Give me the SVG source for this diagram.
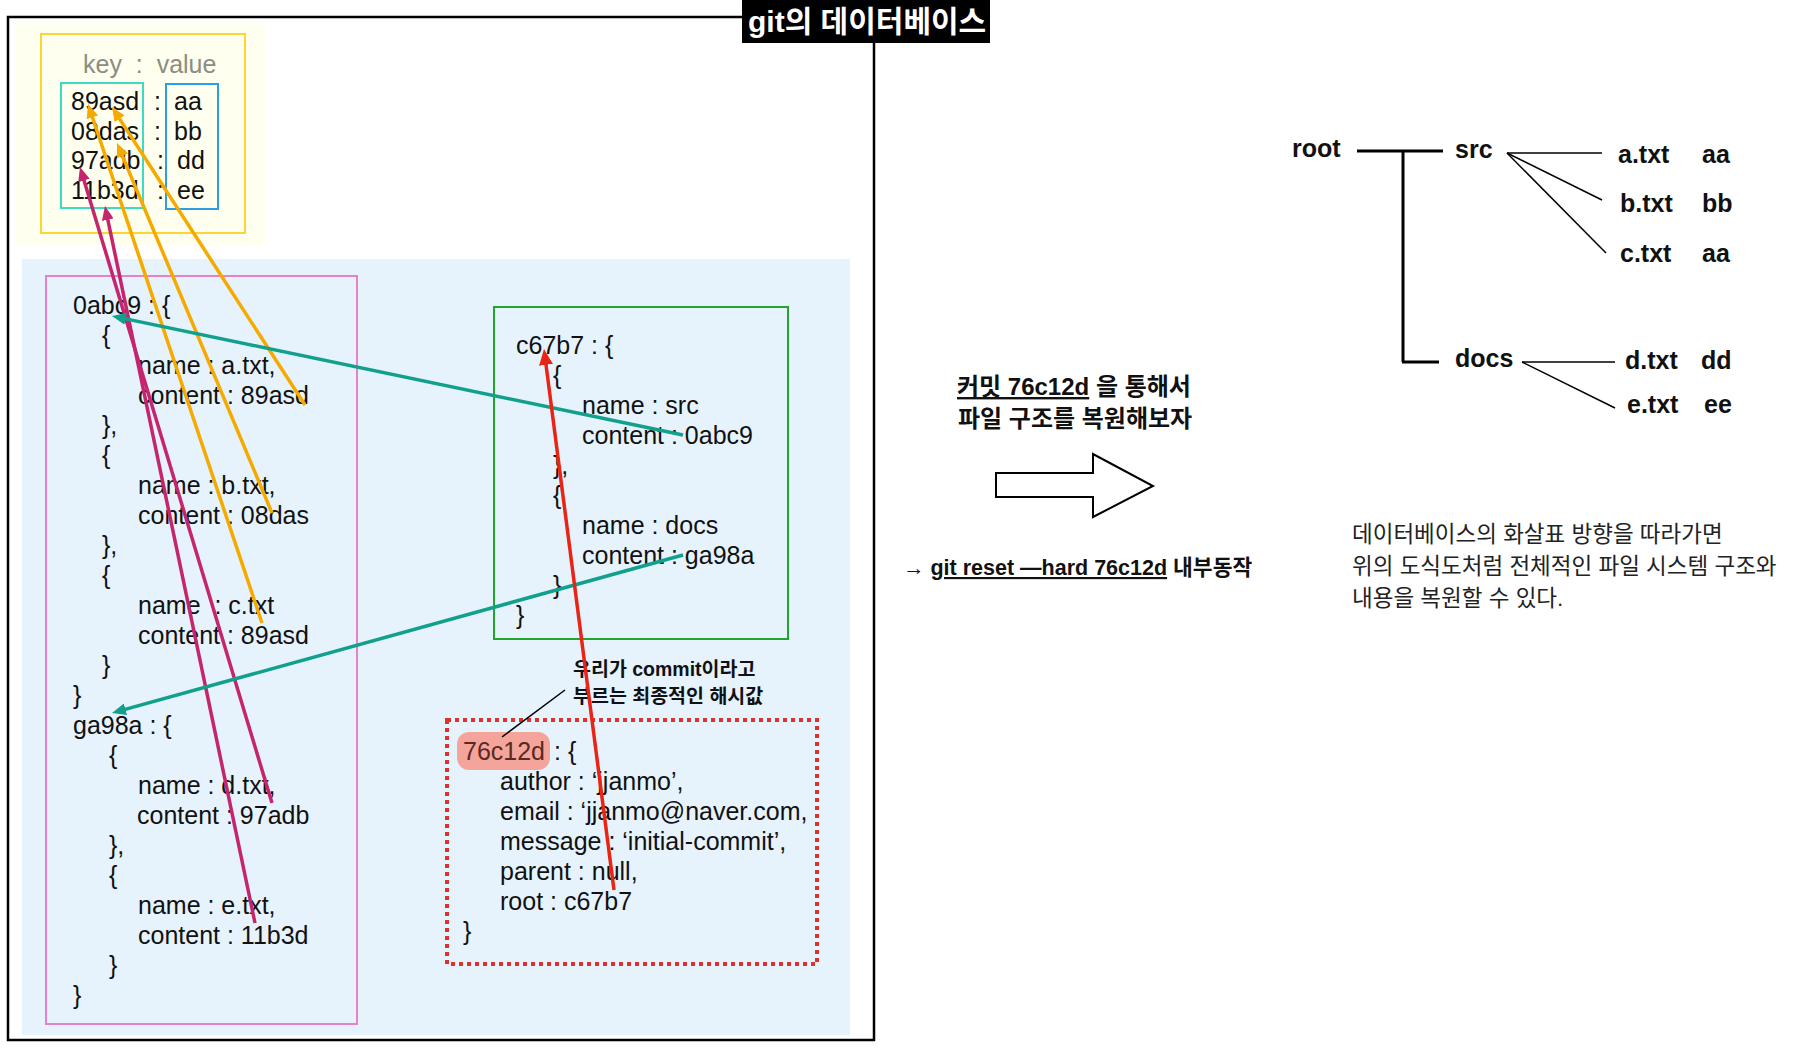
<svg xmlns="http://www.w3.org/2000/svg" width="1801" height="1059" viewBox="0 0 1801 1059">
<style>
  text { font-family: "Liberation Sans", "Noto Sans CJK KR", sans-serif; }
  .code { font-size: 25px; fill: #111; white-space: pre; }
  .bold { font-weight: bold; }
  .tree { font-size: 25px; font-weight: bold; fill: #111; }
  .thick { stroke: #000; stroke-width: 3; fill: none; }
  .thin { stroke: #000; stroke-width: 1.5; fill: none; }
  .orange { stroke: #F5AA00; stroke-width: 3.5; fill: none; }
  .magenta { stroke: #C4256C; stroke-width: 3.5; fill: none; }
  .teal { stroke: #11A08B; stroke-width: 3.5; fill: none; }
  .red { stroke: #EA2415; stroke-width: 3.5; fill: none; }
</style>
<defs>
  <marker id="m-orange" viewBox="0 0 14 12" refX="6" refY="6" markerWidth="14" markerHeight="12" markerUnits="userSpaceOnUse" orient="auto"><path d="M0,0 L14,6 L0,12 z" fill="#F5AA00"/></marker>
  <marker id="m-magenta" viewBox="0 0 14 12" refX="6" refY="6" markerWidth="14" markerHeight="12" markerUnits="userSpaceOnUse" orient="auto"><path d="M0,0 L14,6 L0,12 z" fill="#C4256C"/></marker>
  <marker id="m-teal" viewBox="0 0 14 12" refX="6" refY="6" markerWidth="14" markerHeight="12" markerUnits="userSpaceOnUse" orient="auto"><path d="M0,0 L14,6 L0,12 z" fill="#11A08B"/></marker>
  <marker id="m-red" viewBox="0 0 16 14" refX="8" refY="7" markerWidth="16" markerHeight="14" markerUnits="userSpaceOnUse" orient="auto"><path d="M0,0 L16,7 L0,14 z" fill="#EA2415"/></marker>
</defs>

<rect width="1801" height="1059" fill="#fff"/>

<g id="git-database">
  <rect x="8" y="17" width="866" height="1023" fill="none" stroke="#000" stroke-width="2.5"/>
  <rect x="16" y="23" width="249" height="222" fill="#FFFFEF"/>
  <rect x="22" y="259" width="828" height="776" fill="#E6F3FD"/>
</g>

<g id="title">
  <rect x="742" y="0" width="248" height="43" fill="#000"/>
  <text x="748" y="32" font-size="30" font-weight="bold" fill="#fff">git의 데이터베이스</text>
</g>

<g id="key-value-store">
  <rect x="41" y="34" width="204" height="199" fill="none" stroke="#F8D636" stroke-width="2"/>
  <text x="83" y="73" class="code" style="fill:#8C8C82">key  :  value</text>
  <rect x="61" y="83" width="82" height="125" fill="none" stroke="#3DDCC2" stroke-width="2"/>
  <rect x="166" y="84" width="52" height="125" fill="none" stroke="#2E9DE8" stroke-width="2"/>
  <text class="code" x="71" y="110">89asd</text>
  <text class="code" x="71" y="140">08das</text>
  <text class="code" x="71" y="169">97adb</text>
  <text class="code" x="71" y="199">11b3d</text>
  <text class="code" x="154" y="110">:</text>
  <text class="code" x="154" y="140">:</text>
  <text class="code" x="157" y="169">:</text>
  <text class="code" x="157" y="199">:</text>
  <text class="code" x="174" y="110">aa</text>
  <text class="code" x="174" y="140">bb</text>
  <text class="code" x="177" y="169">dd</text>
  <text class="code" x="177" y="199">ee</text>
</g>

<g id="tree-0abc9-ga98a">
  <rect x="46" y="276" width="311" height="748" fill="none" stroke="#E882C8" stroke-width="2"/>
  <text class="code" x="73" y="314">0abc9 : {</text>
  <text class="code" x="102" y="344">{</text>
  <text class="code" x="138" y="374">name : a.txt,</text>
  <text class="code" x="138" y="404">content : 89asd</text>
  <text class="code" x="102" y="434">},</text>
  <text class="code" x="102" y="464">{</text>
  <text class="code" x="138" y="494">name : b.txt,</text>
  <text class="code" x="138" y="524">content : 08das</text>
  <text class="code" x="102" y="554">},</text>
  <text class="code" x="102" y="584">{</text>
  <text class="code" x="138" y="614">name  : c.txt</text>
  <text class="code" x="138" y="644">content : 89asd</text>
  <text class="code" x="102" y="674">}</text>
  <text class="code" x="73" y="704">}</text>
  <text class="code" x="73" y="734">ga98a : {</text>
  <text class="code" x="109" y="764">{</text>
  <text class="code" x="138" y="794">name : d.txt,</text>
  <text class="code" x="137" y="824">content : 97adb</text>
  <text class="code" x="109" y="854">},</text>
  <text class="code" x="109" y="884">{</text>
  <text class="code" x="138" y="914">name : e.txt,</text>
  <text class="code" x="138" y="944">content : 11b3d</text>
  <text class="code" x="109" y="974">}</text>
  <text class="code" x="73" y="1004">}</text>
</g>

<g id="tree-c67b7">
  <rect x="494" y="307" width="294" height="332" fill="none" stroke="#22A52E" stroke-width="2"/>
  <text class="code" x="516" y="354">c67b7 : {</text>
  <text class="code" x="553" y="384">{</text>
  <text class="code" x="582" y="414">name : src</text>
  <text class="code" x="582" y="444">content : 0abc9</text>
  <text class="code" x="553" y="474">},</text>
  <text class="code" x="553" y="504">{</text>
  <text class="code" x="582" y="534">name : docs</text>
  <text class="code" x="582" y="564">content : ga98a</text>
  <text class="code" x="553" y="594">}</text>
  <text class="code" x="516" y="624">}</text>
</g>

<g id="commit-76c12d">
  <rect x="447" y="720" width="370" height="244" fill="none" stroke="#E0302A" stroke-width="4" stroke-dasharray="4 4"/>
  <rect x="457" y="732" width="93" height="38" rx="12" fill="#F4A49A"/>
  <text class="code" x="463" y="760" style="fill:#5A2A22">76c12d</text>
  <text class="code" x="554" y="760">: {</text>
  <text class="code" x="500" y="790">author : ‘jjanmo’,</text>
  <text class="code" x="500" y="820">email : ‘jjanmo@naver.com,</text>
  <text class="code" x="500" y="850">message : ‘initial-commit’,</text>
  <text class="code" x="500" y="880">parent : null,</text>
  <text class="code" x="500" y="910">root : c67b7</text>
  <text class="code" x="463" y="940">}</text>
</g>

<g id="commit-callout">
  <line x1="565" y1="690" x2="502" y2="737" stroke="#000" stroke-width="1.5"/>
  <text x="573" y="676" font-size="19.5" font-weight="bold" fill="#111">우리가 commit이라고</text>
  <text x="573" y="703" font-size="19.5" font-weight="bold" fill="#111">부르는 최종적인 해시값</text>
</g>

<g id="restore-label">
  <text x="957" y="395" font-size="24" font-weight="bold" fill="#111"><tspan text-decoration="underline">커밋 76c12d</tspan> 을 통해서</text>
  <text x="958" y="427" font-size="24" font-weight="bold" fill="#111">파일 구조를 복원해보자</text>
</g>

<g id="hollow-arrow">
  <polygon points="996,473 1093,473 1093,454 1153,486 1093,517 1093,497 996,497" fill="#fff" stroke="#000" stroke-width="2"/>
</g>

<g id="git-reset-label">
  <text x="903" y="575" font-size="21.5" font-weight="bold" fill="#111">→ <tspan text-decoration="underline">git reset —hard 76c12d</tspan> 내부동작</text>
</g>

<g id="explanation">
  <text x="1352" y="542" font-size="22.5" fill="#222">데이터베이스의 화살표 방향을 따라가면</text>
  <text x="1352" y="574" font-size="22.5" fill="#222">위의 도식도처럼 전체적인 파일 시스템 구조와</text>
  <text x="1352" y="606" font-size="22.5" fill="#222">내용을 복원할 수 있다.</text>
</g>

<g id="fs-tree">
  <line class="thick" x1="1357" y1="151" x2="1443" y2="151"/>
  <line class="thick" x1="1403" y1="151" x2="1403" y2="362"/>
  <line class="thick" x1="1402" y1="362" x2="1439" y2="362"/>
  <line class="thin" x1="1507" y1="153" x2="1602" y2="153"/>
  <line class="thin" x1="1507" y1="153" x2="1602" y2="200"/>
  <line class="thin" x1="1507" y1="153" x2="1606" y2="253"/>
  <line class="thin" x1="1522" y1="362" x2="1615" y2="362"/>
  <line class="thin" x1="1522" y1="362" x2="1615" y2="408"/>
  <text class="tree" x="1292" y="157">root</text>
  <text class="tree" x="1455" y="158">src</text>
  <text class="tree" x="1455" y="367">docs</text>
  <text class="tree" x="1618" y="163">a.txt</text>
  <text class="tree" x="1702" y="163">aa</text>
  <text class="tree" x="1620" y="212">b.txt</text>
  <text class="tree" x="1702" y="212">bb</text>
  <text class="tree" x="1620" y="262">c.txt</text>
  <text class="tree" x="1702" y="262">aa</text>
  <text class="tree" x="1625" y="369">d.txt</text>
  <text class="tree" x="1701" y="369">dd</text>
  <text class="tree" x="1627" y="413">e.txt</text>
  <text class="tree" x="1704" y="413">ee</text>
</g>

<g id="connectors">
  <line class="orange" x1="305" y1="405" x2="116.3" y2="113.7" marker-end="url(#m-orange)"/>
  <line class="orange" x1="272" y1="513" x2="120.1" y2="150.4" marker-end="url(#m-orange)"/>
  <line class="orange" x1="262" y1="623" x2="90.5" y2="111.6" marker-end="url(#m-orange)"/>
  <line class="magenta" x1="272" y1="803" x2="82.3" y2="174.7" marker-end="url(#m-magenta)"/>
  <line class="magenta" x1="255" y1="923" x2="106.6" y2="213.8" marker-end="url(#m-magenta)"/>
  <line class="teal" x1="683" y1="435" x2="119.8" y2="317.6" marker-end="url(#m-teal)"/>
  <line class="teal" x1="683" y1="555" x2="119.7" y2="710.9" marker-end="url(#m-teal)"/>
  <line class="red" x1="614" y1="890" x2="545.0" y2="356.9" marker-end="url(#m-red)"/>
</g>
</svg>
